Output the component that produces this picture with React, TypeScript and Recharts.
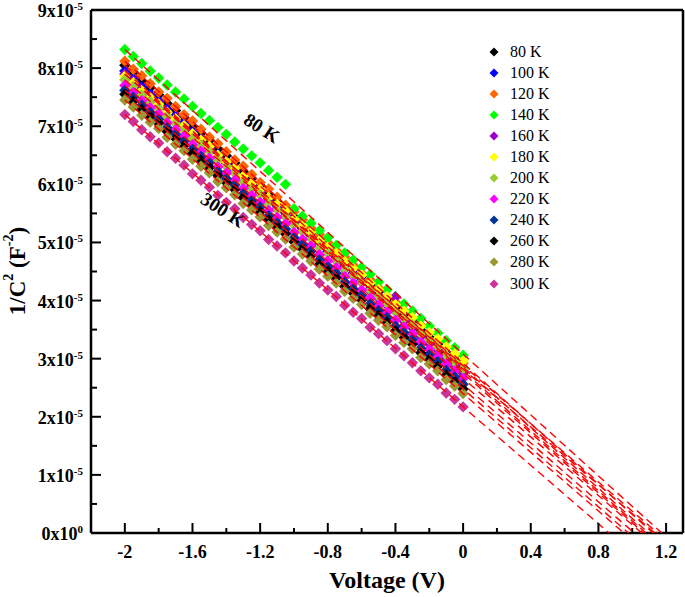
import React from "react";
import { ComposedChart, Scatter, Line, XAxis, YAxis, ReferenceLine, ReferenceDot, Legend } from "recharts";

// values in units of 1e-5 F^-2
const voltages = [
  -2, -1.95, -1.9, -1.85, -1.8, -1.75, -1.7, -1.65, -1.6, -1.55, -1.5, -1.45, -1.4, -1.35,
  -1.3, -1.25, -1.2, -1.15, -1.1, -1.05, -1, -0.95, -0.9, -0.85, -0.8, -0.75, -0.7, -0.65,
  -0.6, -0.55, -0.5, -0.45, -0.4, -0.35, -0.3, -0.25, -0.2, -0.15, -0.1, -0.05, 0,
]

const t80 = [8.05, 7.93, 7.78, 7.66, 7.54, 7.39, 7.27, 7.15, 7.0, 6.88, 6.76, 6.61, 6.49, 6.37, 6.22, 6.1, 5.98, 5.83, 5.71, 5.59, 5.44, 5.32, 5.2, 5.05, 4.93, 4.81, 4.66, 4.54, 4.42, 4.27, 4.15, 4.03, 3.88, 3.76, 3.64, 3.49, 3.37, 3.25, 3.1, 2.98, 2.85]
const t100 = [7.95, 7.83, 7.68, 7.56, 7.44, 7.3, 7.18, 7.06, 6.91, 6.79, 6.67, 6.52, 6.4, 6.28, 6.13, 6.02, 5.9, 5.75, 5.63, 5.51, 5.36, 5.24, 5.12, 4.97, 4.85, 4.74, 4.59, 4.47, 4.35, 4.2, 4.08, 3.96, 3.81, 3.69, 3.57, 3.43, 3.31, 3.19, 3.04, 2.92, 2.79]
const t120 = [8.12, 7.98, 7.87, 7.73, 7.59, 7.48, 7.34, 7.2, 7.09, 6.95, 6.81, 6.7, 6.56, 6.42, 6.31, 6.17, 6.03, 5.92, 5.78, 5.64, 5.53, 5.39, 5.25, 5.14, 5.0, 4.86, 4.75, 4.61, 4.47, 4.36, 4.22, 4.08, 3.97, 3.83, 3.69, 3.58, 3.44, 3.3, 3.19, 3.05, 2.92]
const t140 = [8.32, 8.2, 8.08, 7.95, 7.83, 7.71, 7.59, 7.47, 7.34, 7.22, 7.1, 6.98, 6.86, 6.73, 6.61, 6.49, 6.37, 6.24, 6.12, 6.0, 5.58, 5.45, 5.33, 5.2, 5.08, 4.95, 4.82, 4.7, 4.57, 4.45, 4.32, 4.19, 4.07, 3.94, 3.82, 3.69, 3.56, 3.44, 3.31, 3.19, 3.06]
const t160 = [7.9, 7.78, 7.63, 7.51, 7.4, 7.25, 7.13, 7.01, 6.86, 6.74, 6.62, 6.47, 6.36, 6.24, 6.09, 5.97, 5.85, 5.7, 5.58, 5.46, 5.32, 5.2, 5.08, 4.93, 4.81, 4.69, 4.54, 4.42, 4.31, 4.16, 4.04, 3.92, 4.06, 3.65, 3.53, 3.38, 3.26, 3.15, 3.0, 2.88, 2.75]
const t180 = [7.86, 7.75, 7.61, 7.49, 7.38, 7.24, 7.13, 7.01, 6.87, 6.76, 6.65, 6.5, 6.39, 6.28, 6.14, 6.02, 5.91, 5.77, 5.66, 5.54, 5.4, 5.29, 5.18, 5.03, 4.92, 4.81, 4.67, 4.55, 4.44, 4.3, 4.19, 4.07, 3.93, 3.82, 3.71, 3.56, 3.45, 3.34, 3.2, 3.08, 2.96]
const t200 = [7.8, 7.69, 7.54, 7.43, 7.31, 7.17, 7.05, 6.94, 6.79, 6.68, 6.57, 6.42, 6.31, 6.19, 6.05, 5.93, 5.82, 5.67, 5.56, 5.44, 5.3, 5.19, 5.07, 4.93, 4.81, 4.7, 4.55, 4.44, 4.32, 4.18, 4.07, 3.95, 3.81, 3.69, 3.58, 3.43, 3.32, 3.2, 3.06, 2.94, 2.82]
const t220 = [7.7, 7.58, 7.44, 7.32, 7.21, 7.06, 6.94, 6.83, 6.68, 6.57, 6.45, 6.3, 6.19, 6.07, 5.93, 5.81, 5.69, 5.55, 5.43, 5.32, 5.17, 5.05, 4.94, 4.79, 4.68, 4.56, 4.41, 4.3, 4.18, 4.04, 3.92, 3.8, 3.66, 3.54, 3.43, 3.28, 3.16, 3.05, 2.9, 2.79, 2.66]
const t240 = [7.62, 7.5, 7.36, 7.24, 7.12, 6.98, 6.86, 6.74, 6.6, 6.48, 6.37, 6.22, 6.1, 5.99, 5.84, 5.72, 5.61, 5.46, 5.34, 5.23, 5.08, 4.96, 4.85, 4.7, 4.58, 4.47, 4.32, 4.2, 4.09, 3.94, 3.83, 3.71, 3.56, 3.45, 3.33, 3.18, 3.07, 2.95, 2.8, 2.69, 2.56]
const t260 = [7.55, 7.43, 7.29, 7.17, 7.05, 6.91, 6.79, 6.67, 6.53, 6.41, 6.29, 6.15, 6.03, 5.91, 5.77, 5.65, 5.53, 5.39, 5.27, 5.15, 5.01, 4.89, 4.77, 4.62, 4.51, 4.39, 4.24, 4.13, 4.01, 3.86, 3.75, 3.63, 3.48, 3.37, 3.25, 3.1, 2.99, 2.87, 2.72, 2.61, 2.48]
const t280 = [7.45, 7.33, 7.19, 7.07, 6.96, 6.81, 6.69, 6.58, 6.43, 6.31, 6.2, 6.05, 5.94, 5.82, 5.67, 5.56, 5.44, 5.29, 5.18, 5.06, 4.92, 4.8, 4.68, 4.54, 4.42, 4.3, 4.16, 4.04, 3.93, 3.78, 3.66, 3.55, 3.4, 3.28, 3.17, 3.02, 2.91, 2.79, 2.64, 2.53, 2.4]
const t300 = [7.2, 7.08, 6.94, 6.82, 6.71, 6.56, 6.45, 6.33, 6.18, 6.07, 5.95, 5.81, 5.69, 5.58, 5.43, 5.31, 5.2, 5.05, 4.94, 4.82, 4.68, 4.56, 4.44, 4.3, 4.18, 4.07, 3.92, 3.8, 3.69, 3.54, 3.43, 3.31, 3.17, 3.05, 2.93, 2.79, 2.67, 2.56, 2.41, 2.3, 2.17]

const seriesNames = ["80 K", "100 K", "120 K", "140 K", "160 K", "180 K", "200 K", "220 K", "240 K", "260 K", "280 K", "300 K"]
const seriesValues = [t80, t100, t120, t140, t160, t180, t200, t220, t240, t260, t280, t300]
const seriesColors = ["#000000", "#0000FF", "#FF6600", "#00FF00", "#9900CC", "#FFFF00", "#99CC33", "#FF00FF", "#003399", "#000000", "#999933", "#CC3399"]

// linear fits: value at -2 V and the voltage intercept
const fitStart = [8.05, 7.95, 8.12, 8.32, 7.9, 7.9, 7.8, 7.7, 7.62, 7.55, 7.45, 7.2]
const fitIntercept = [1.096, 1.081, 1.123, 1.175, 1.068, 1.15, 1.133, 1.056, 1.012, 0.978, 0.95, 0.863]

const xTicks = [-2, -1.8, -1.6, -1.4, -1.2, -1, -0.8, -0.6, -0.4, -0.2, 0, 0.2, 0.4, 0.6, 0.8, 1, 1.2]
const yTicks = [0, 0.5, 1, 1.5, 2, 2.5, 3, 3.5, 4, 4.5, 5, 5.5, 6, 6.5, 7, 7.5, 8, 8.5, 9]

const font = "'Liberation Serif', 'Times New Roman', serif"

const Diamond = (props: any) => {
  const { cx, cy, fill } = props
  if (cx == null || cy == null) return null
  const r = 5.7
  return <path d={`M${cx},${cy - r}L${cx + r},${cy}L${cx},${cy + r}L${cx - r},${cy}Z`} fill={fill} />
}

const XTick = (props: any) => {
  const { x, y, payload } = props
  const tenth = Math.round(payload.value * 10)
  const major = tenth % 4 === 0
  return (
    <g>
      <line x1={x} x2={x} y1={y} y2={y - (major ? 10 : 5)} stroke="#000" strokeWidth={2} />
      {major && (
        <text x={x} y={y + 25} textAnchor="middle" fontFamily={font} fontWeight="bold" fontSize={18} fill="#000">
          {String(tenth / 10)}
        </text>
      )}
    </g>
  )
}

const YTick = (props: any) => {
  const { x, y, payload } = props
  const v = payload.value
  const major = Number.isInteger(v)
  return (
    <g>
      <line x1={x} x2={x + (major ? 10 : 6)} y1={y} y2={y} stroke="#000" strokeWidth={2} />
      {major && (
        <text x={x - 8} y={y + 7} textAnchor="end" fontFamily={font} fontWeight="bold" fontSize={18} fill="#000">
          {`${v}x10`}
          <tspan dy={-7} fontSize={11}>{v === 0 ? "0" : "-5"}</tspan>
        </text>
      )}
    </g>
  )
}

const LegendBox = () => (
  <div style={{ fontFamily: font, fontSize: 16, color: "#000" }}>
    {seriesNames.map((name, i) => (
      <div key={name} style={{ height: 21.1, display: "flex", alignItems: "center" }}>
        <svg width={18} height={12} style={{ marginRight: 6 }}>
          <path d="M8,1.5L12.5,6L8,10.5L3.5,6Z" fill={seriesColors[i]} />
        </svg>
        <span>{name}</span>
      </div>
    ))}
  </div>
)

const rotatedLabel = (text: string) => (props: any) => {
  const { cx, cy } = props
  return (
    <text
      x={cx}
      y={cy}
      textAnchor="middle"
      dominantBaseline="central"
      transform={`rotate(33 ${cx} ${cy})`}
      fontFamily={font}
      fontWeight="bold"
      fontSize={19}
      fill="#000"
    >
      {text}
    </text>
  )
}

export default function App() {
  return (
    <div style={{ position: "absolute", left: 0, top: 0, width: 685, height: 597, background: "#fff" }}>
      <ComposedChart width={685} height={597} margin={{ top: 10, right: 2, left: 0, bottom: 0 }}>
        <XAxis
          dataKey="v"
          type="number"
          domain={[-2.2, 1.3]}
          allowDataOverflow
          ticks={xTicks}
          interval={0}
          tick={<XTick />}
          tickLine={false}
          tickSize={0}
          tickMargin={0}
          axisLine={{ stroke: "#000", strokeWidth: 2.5 }}
          height={64}
          label={{ value: "Voltage (V)", position: "insideBottom", offset: 9, fontFamily: font, fontWeight: "bold", fontSize: 24, fill: "#000" }}
        />
        <YAxis
          dataKey="y"
          type="number"
          domain={[0, 9]}
          allowDataOverflow
          ticks={yTicks}
          interval={0}
          tick={<YTick />}
          tickLine={false}
          tickSize={0}
          tickMargin={0}
          axisLine={{ stroke: "#000", strokeWidth: 2.5 }}
          width={91}
          label={() => {
            const cy = 271
            const cx = 17
            return (
              <text
                x={cx}
                y={cy}
                textAnchor="middle"
                dominantBaseline="central"
                transform={`rotate(-90 ${cx} ${cy})`}
                fontFamily={font}
                fontWeight="bold"
                fontSize={23}
                fill="#000"
              >
                1/C<tspan dy={-9} fontSize={14}>2</tspan>
                <tspan dy={9}> (F</tspan>
                <tspan dy={-9} fontSize={14}>-2</tspan>
                <tspan dy={9}>)</tspan>
              </text>
            )
          }}
        />
        <ReferenceLine y={9} stroke="#000" strokeWidth={2.5} />
        <ReferenceLine x={1.3} stroke="#000" strokeWidth={2.5} />
        {seriesValues.map((vals, i) => (
          <Scatter
            key={seriesNames[i]}
            name={seriesNames[i]}
            data={voltages.map((v, k) => ({ v, y: vals[k] }))}
            dataKey="y"
            fill={seriesColors[i]}
            shape={<Diamond />}
            isAnimationActive={false}
          />
        ))}
        {fitStart.map((s, i) => (
          <Line
            key={"fit" + i}
            data={[{ v: -2, y: s }, { v: fitIntercept[i], y: 0 }]}
            dataKey="y"
            type="linear"
            stroke="#FF0000"
            strokeWidth={1.4}
            strokeDasharray="8 5"
            dot={false}
            activeDot={false}
            legendType="none"
            isAnimationActive={false}
            {...({ zIndex: 700 } as any)}
          />
        ))}
        <ReferenceDot x={-1.19} y={6.97} r={0} shape={rotatedLabel("80 K")} />
        <ReferenceDot x={-1.42} y={5.56} r={0} shape={rotatedLabel("300 K")} />
        <Legend
          layout="vertical"
          align="center"
          verticalAlign="middle"
          content={<LegendBox />}
          wrapperStyle={{ position: "absolute", left: 486, top: 41, width: 90 }}
        />
      </ComposedChart>
    </div>
  )
}
